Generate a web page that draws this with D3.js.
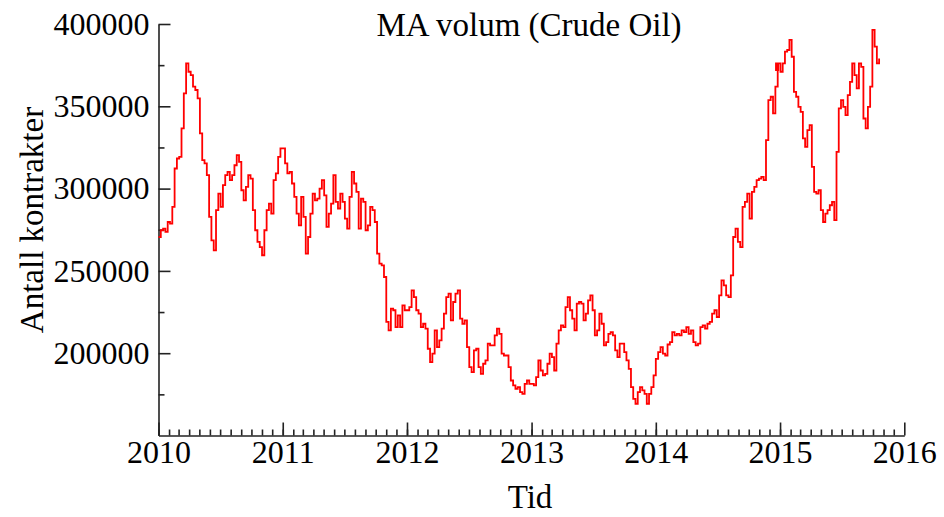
<!DOCTYPE html>
<html>
<head>
<meta charset="utf-8">
<script src="https://cdn.jsdelivr.net/npm/d3@7/dist/d3.min.js"></script>
<style>
	html, body { margin: 0; padding: 0; background: #fff; }
	svg text { font-family: 'Liberation Serif', 'DejaVu Serif', serif; fill: #000; }
	.axis path, .axis line { stroke: #222; stroke-width: 1.6; }
</style>
</head>
<body>
<svg width="944" height="517"></svg>
<script>
'use strict';

// weekly moving average of traded contracts, one list per year
var vol2010 = [270600, 274700, 275700, 273700, 279700, 278700, 288900, 312200, 318300, 319300,
	336600, 357800, 376100, 371000, 369000, 361900, 359900, 354800, 333500, 317300,
	315300, 308200, 282800, 268600, 262500, 286900, 297000, 288900, 302100, 308200,
	310200, 305100, 308200, 314200, 320300, 316200, 299000, 292900, 301000, 308200,
	306100, 286900, 274700, 267600, 264500, 259500, 274700, 286900, 290900, 284800,
	305100, 309200, 319300, 324400];
var vol2011 = [324400, 315300, 309200, 310200, 303100, 295000, 284800, 277700, 295000, 282800,
	260500, 270600, 284800, 297000, 292900, 293900, 300000, 305100, 295900, 276700,
	284800, 290900, 308200, 291900, 287900, 297000, 291900, 281800, 275700, 295000,
	310200, 303100, 298000, 275700, 293900, 291900, 274700, 277700, 288900, 286900,
	279700, 260500, 254400, 253400, 246300, 219000, 213900, 227100, 226100, 215900,
	223000, 215900, 229100, 226100];
var vol2012 = [226100, 228000, 238200, 234100, 226100, 224000, 215900, 217900, 214900, 202700,
	194600, 199700, 213900, 203700, 207800, 214900, 224000, 234100, 236200, 220000,
	231100, 236200, 238200, 221000, 217900, 220000, 203700, 191500, 188500, 201700,
	202700, 191500, 187500, 193600, 195600, 205800, 204700, 204700, 210800, 214900,
	211800, 199700, 198600, 198600, 191500, 183400, 180400, 178400, 179400, 176300,
	175300, 181400, 183400, 181400];
var vol2013 = [181400, 180400, 185500, 195600, 189500, 186500, 187500, 193600, 199700, 197600,
	189500, 205800, 213900, 216900, 215900, 228000, 234100, 226100, 221000, 213900,
	230100, 231100, 230100, 220000, 224000, 232100, 235100, 226100, 210800, 213900,
	224000, 217900, 204700, 206700, 211800, 212800, 210800, 201700, 197600, 205800,
	205800, 200700, 195600, 190500, 179400, 172300, 169300, 176300, 179400, 177400,
	175300, 169300, 175300, 179400, 186500];
var vol2014 = [196600, 200700, 203700, 199700, 198600, 205300, 206700, 212800, 210800, 211800,
	210800, 213900, 212800, 215900, 211800, 213900, 206700, 204700, 205800, 215900,
	216900, 214900, 217900, 219000, 224000, 226100, 222000, 235100, 244300, 241200,
	235100, 234100, 247300, 270600, 275700, 267600, 264500, 288900, 291900, 297000,
	281800, 298000, 301000, 305100, 306100, 307100, 305100, 329400, 353800, 355800,
	345700, 361900, 376100];
var vol2015 = [372000, 376100, 371000, 376100, 383200, 384200, 390300, 380100, 358800, 355800,
	349700, 346600, 330500, 325400, 335500, 338600, 313200, 298000, 297000, 299000,
	286900, 279700, 284800, 286900, 289900, 291900, 280800, 322300, 348700, 353800,
	349700, 344600, 356800, 364900, 376100, 369000, 360900, 376100, 374000, 342600,
	336600, 349700, 361900, 396400, 386200, 376100, 379100];

var years = [2010, 2011, 2012, 2013, 2014, 2015];
var seriesByYear = [vol2010, vol2011, vol2012, vol2013, vol2014, vol2015];
// the 2015 list starts a little before new year and stops in October
var lastListStart = new Date(2014, 11, 20);
var lastWeek = new Date(2015, 9, 19);

var xTickYears = [2010, 2011, 2012, 2013, 2014, 2015, 2016];
var yTickValues = [200000, 250000, 300000, 350000, 400000];

var titleText = 'MA volum (Crude Oil)';
var xLabelText = 'Tid';
var yLabelText = 'Antall kontrakter';

var tickFontSize = 32;
var labelFontSize = 33;

/**
 * Spread each year's weekly values over that year
 */
var points = [];
years.forEach(function (year, j) {
	var vals = seriesByYear[j];
	var isLast = j === years.length - 1;
	var start = isLast ? lastListStart.getTime() : new Date(year, 0, 1).getTime();
	var end = isLast ? lastWeek.getTime() : new Date(year + 1, 0, 1).getTime();
	var step = (end - start) / (isLast ? vals.length - 1 : vals.length);
	for (var i = 0; i < vals.length; i++) {
		points.push({ date: new Date(start + i * step), value: vals[i] });
	}
});

var svg = d3.select('svg');

var x = d3.scaleTime()
	.domain([new Date(2010, 0, 1), new Date(2016, 0, 1)])
	.range([158.5, 904.3]);
var y = d3.scaleLinear()
	.domain([150000, 400000])
	.range([435.5, 24]);

// minor ticks first, so the main axes draw on top
svg.append('g')
	.attr('class', 'axis')
	.attr('transform', 'translate(0,' + y.range()[0] + ')')
	.call(d3.axisBottom(x)
		.tickValues(d3.timeMonth.range(new Date(2010, 0, 1), new Date(2016, 0, 1)))
		.tickSize(-6)
		.tickFormat(''))
	.call(function (g) { g.select('.domain').remove(); });

svg.append('g')
	.attr('class', 'axis')
	.attr('transform', 'translate(' + x.range()[0] + ',0)')
	.call(d3.axisLeft(y)
		.tickValues(d3.range(175000, 400000, 50000))
		.tickSize(-6)
		.tickFormat(''))
	.call(function (g) { g.select('.domain').remove(); });

svg.append('g')
	.attr('class', 'axis')
	.attr('transform', 'translate(0,' + y.range()[0] + ')')
	.call(d3.axisBottom(x)
		.tickValues(xTickYears.map(function (yr) { return new Date(yr, 0, 1); }))
		.tickSize(-13)
		.tickSizeOuter(0)
		.tickPadding(5)
		.tickFormat(d3.timeFormat('%Y')));

svg.append('g')
	.attr('class', 'axis')
	.attr('transform', 'translate(' + x.range()[0] + ',0)')
	.call(d3.axisLeft(y)
		.tickValues(yTickValues)
		.tickSize(-12)
		.tickSizeOuter(0)
		.tickPadding(9)
		.tickFormat(d3.format('d')));

svg.selectAll('.axis text')
	.style('font-size', tickFontSize + 'px')
	.style('font-family', "'Liberation Serif', serif")
	.attr('fill', '#000');

var line = d3.line()
	.curve(d3.curveStepAfter)
	.x(function (d) { return x(d.date); })
	.y(function (d) { return y(d.value); });

svg.append('path')
	.datum(points)
	.attr('fill', 'none')
	.attr('stroke', '#ff0000')
	.attr('stroke-width', 1.8)
	.attr('d', line);

svg.append('text')
	.attr('x', 529)
	.attr('y', 36)
	.attr('text-anchor', 'middle')
	.style('font-size', labelFontSize + 'px')
	.text(titleText);

svg.append('text')
	.attr('x', 530)
	.attr('y', 508)
	.attr('text-anchor', 'middle')
	.style('font-size', labelFontSize + 'px')
	.text(xLabelText);

svg.append('text')
	.attr('transform', 'translate(43,220) rotate(-90)')
	.attr('text-anchor', 'middle')
	.style('font-size', labelFontSize + 'px')
	.text(yLabelText);
</script>
</body>
</html>
